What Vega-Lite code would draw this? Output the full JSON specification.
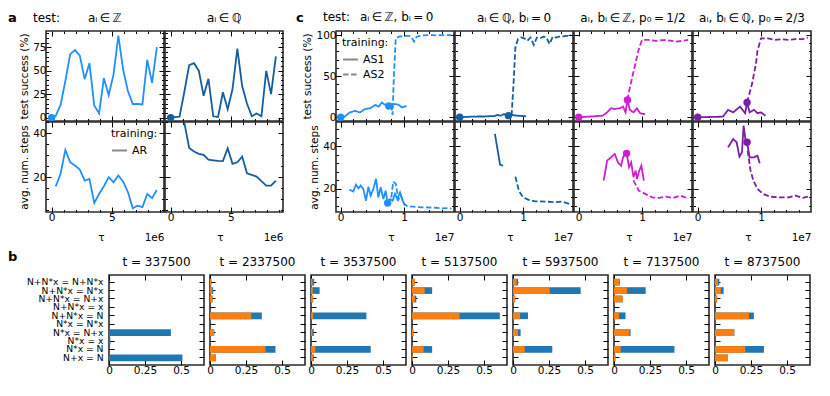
{
"$schema":"https://vega.github.io/schema/vega-lite/v6.json",
"padding":{"left":8,"top":10,"right":2,"bottom":2},
"config":{
 "font":"DejaVu Sans",
 "view":{"stroke":"#2a2a2a","strokeWidth":1.6},
 "axis":{"domain":false,"grid":false,"tickColor":"#000","tickSize":-5,"tickWidth":1,"labelFontSize":10.5,"labelColor":"#000","labelPadding":0,"maxExtent":0,"minExtent":0,"titleFontSize":10.5,"titleFontWeight":"normal","titleColor":"#000","titlePadding":3,"zindex":1,"labelFlush":false,"labelOverlap":false},
 "title":{"fontSize":12,"fontWeight":"normal","color":"#000","offset":6},
 "legend":{"titleFontWeight":"normal","titleFontSize":11,"labelFontSize":11,"titleColor":"#000","labelColor":"#000","symbolStrokeColor":"#888","symbolStrokeWidth":1.8,"symbolSize":220,"padding":3,"offset":3,"rowPadding":1,"titlePadding":3}
},
"datasets":{
 "a1top":[{"t":0,"v":0},{"t":337500,"v":2},{"t":737500,"v":13.5},{"t":1137500,"v":39},{"t":1537500,"v":67.6},{"t":1937500,"v":72},{"t":2337500,"v":66},{"t":2737500,"v":41},{"t":3137500,"v":58},{"t":3537500,"v":13},{"t":3937500,"v":4.5},{"t":4337500,"v":42},{"t":4737500,"v":24},{"t":5137500,"v":46},{"t":5537500,"v":87.5},{"t":5937500,"v":51},{"t":6337500,"v":28},{"t":6737500,"v":14.5},{"t":7137500,"v":14.5},{"t":7537500,"v":14},{"t":7937500,"v":61.6},{"t":8337500,"v":37},{"t":8737500,"v":75}],
 "a1bot":[{"t":337500,"v":15.8,"training":"AR"},{"t":737500,"v":21.5,"training":"AR"},{"t":1137500,"v":32.4,"training":"AR"},{"t":1537500,"v":26.8,"training":"AR"},{"t":1937500,"v":25.3,"training":"AR"},{"t":2337500,"v":23.5,"training":"AR"},{"t":2737500,"v":18.5,"training":"AR"},{"t":3137500,"v":19.2,"training":"AR"},{"t":3537500,"v":8.3,"training":"AR"},{"t":3937500,"v":12.4,"training":"AR"},{"t":4337500,"v":15.9,"training":"AR"},{"t":4737500,"v":20,"training":"AR"},{"t":5137500,"v":17.7,"training":"AR"},{"t":5537500,"v":20.8,"training":"AR"},{"t":5937500,"v":18,"training":"AR"},{"t":6337500,"v":13.2,"training":"AR"},{"t":6737500,"v":5.9,"training":"AR"},{"t":7137500,"v":7.1,"training":"AR"},{"t":7537500,"v":6.4,"training":"AR"},{"t":7937500,"v":12.4,"training":"AR"},{"t":8337500,"v":10.5,"training":"AR"},{"t":8737500,"v":14.2,"training":"AR"}],
 "a2top":[{"t":0,"v":0},{"t":337500,"v":0.5},{"t":737500,"v":1.1},{"t":1137500,"v":27.6},{"t":1537500,"v":56},{"t":1937500,"v":58},{"t":2337500,"v":50},{"t":2737500,"v":23.3},{"t":3137500,"v":41.3},{"t":3537500,"v":1.4},{"t":3937500,"v":0.7},{"t":4337500,"v":27},{"t":4737500,"v":9},{"t":5137500,"v":30.5},{"t":5537500,"v":73.6},{"t":5937500,"v":33.7},{"t":6337500,"v":15},{"t":6737500,"v":1.4},{"t":7137500,"v":4.3},{"t":7537500,"v":1.4},{"t":7937500,"v":49.8},{"t":8337500,"v":25},{"t":8737500,"v":65.3}],
 "a2bot":[{"t":1137500,"v":44.8},{"t":1537500,"v":33.3},{"t":1937500,"v":31.7},{"t":2337500,"v":30.6},{"t":2737500,"v":30.2},{"t":3137500,"v":28},{"t":3537500,"v":27.7},{"t":3937500,"v":27.4},{"t":4337500,"v":27.3},{"t":4737500,"v":33.2},{"t":5137500,"v":26.1},{"t":5537500,"v":26.8},{"t":5937500,"v":29.4},{"t":6337500,"v":21.8},{"t":6737500,"v":21.1},{"t":7137500,"v":20.3},{"t":7537500,"v":18.2},{"t":7937500,"v":16.2},{"t":8337500,"v":16.2},{"t":8737500,"v":18.5}],
 "c1top":[{"t":0,"v":0,"training":"AS1"},{"t":640000,"v":0.8,"training":"AS1"},{"t":1440000,"v":6,"training":"AS1"},{"t":2250000,"v":7.7,"training":"AS1"},{"t":3050000,"v":6,"training":"AS1"},{"t":3850000,"v":10,"training":"AS1"},{"t":4650000,"v":11,"training":"AS1"},{"t":5450000,"v":15,"training":"AS1"},{"t":6000000,"v":13,"training":"AS1"},{"t":6500000,"v":18,"training":"AS1"},{"t":7050000,"v":15,"training":"AS1"},{"t":7600000,"v":13.8,"training":"AS1"},{"t":8100000,"v":16,"training":"AS1"},{"t":8700000,"v":16,"training":"AS1"},{"t":9200000,"v":15,"training":"AS1"},{"t":9700000,"v":12,"training":"AS1"},{"t":10400000,"v":13.8,"training":"AS1"},
  {"t":8000000,"v":15,"training":"AS2"},{"t":8200000,"v":3,"training":"AS2"},{"t":8400000,"v":50,"training":"AS2"},{"t":8700000,"v":96,"training":"AS2"},{"t":9200000,"v":98,"training":"AS2"},{"t":10000000,"v":99,"training":"AS2"},{"t":10800000,"v":99,"training":"AS2"},{"t":11200000,"v":97,"training":"AS2"},{"t":11600000,"v":92,"training":"AS2"},{"t":12000000,"v":98,"training":"AS2"},{"t":13000000,"v":99.5,"training":"AS2"},{"t":14000000,"v":100,"training":"AS2"},{"t":15000000,"v":99.5,"training":"AS2"},{"t":16000000,"v":100,"training":"AS2"},{"t":17000000,"v":100,"training":"AS2"},{"t":17500000,"v":100,"training":"AS2"}],
 "c1bot":[{"t":1370000,"v":19.7,"training":"AS1"},{"t":2000000,"v":18.8,"training":"AS1"},{"t":2400000,"v":22,"training":"AS1"},{"t":2800000,"v":20.3,"training":"AS1"},{"t":3160000,"v":21.6,"training":"AS1"},{"t":3580000,"v":20,"training":"AS1"},{"t":4000000,"v":14.5,"training":"AS1"},{"t":4370000,"v":21,"training":"AS1"},{"t":4740000,"v":16.9,"training":"AS1"},{"t":5160000,"v":20,"training":"AS1"},{"t":5580000,"v":24.7,"training":"AS1"},{"t":5950000,"v":16,"training":"AS1"},{"t":6320000,"v":20.8,"training":"AS1"},{"t":6740000,"v":15.3,"training":"AS1"},{"t":7100000,"v":19.2,"training":"AS1"},{"t":7420000,"v":13.4,"training":"AS1"},{"t":7790000,"v":15.3,"training":"AS1"},{"t":8200000,"v":14.5,"training":"AS1"},{"t":8580000,"v":17.7,"training":"AS1"},{"t":8950000,"v":15.3,"training":"AS1"},{"t":9370000,"v":18.4,"training":"AS1"},{"t":9790000,"v":14.5,"training":"AS1"},{"t":10160000,"v":12.2,"training":"AS1"},
  {"t":8000000,"v":16,"training":"AS2"},{"t":8300000,"v":23.4,"training":"AS2"},{"t":8700000,"v":22.5,"training":"AS2"},{"t":9100000,"v":15,"training":"AS2"},{"t":9500000,"v":17,"training":"AS2"},{"t":10000000,"v":13,"training":"AS2"},{"t":10500000,"v":12,"training":"AS2"},{"t":11000000,"v":11.8,"training":"AS2"},{"t":12000000,"v":11.5,"training":"AS2"},{"t":13000000,"v":11.4,"training":"AS2"},{"t":14000000,"v":11.3,"training":"AS2"},{"t":15000000,"v":11.2,"training":"AS2"},{"t":16000000,"v":10.9,"training":"AS2"},{"t":17000000,"v":11,"training":"AS2"},{"t":17500000,"v":10.8,"training":"AS2"}],
 "c2top":[{"t":0,"v":0,"training":"AS1"},{"t":1000000,"v":0.5,"training":"AS1"},{"t":2000000,"v":0.8,"training":"AS1"},{"t":3000000,"v":1,"training":"AS1"},{"t":4000000,"v":1,"training":"AS1"},{"t":5000000,"v":1.5,"training":"AS1"},{"t":5500000,"v":1.5,"training":"AS1"},{"t":6000000,"v":3,"training":"AS1"},{"t":6500000,"v":2,"training":"AS1"},{"t":7000000,"v":4,"training":"AS1"},{"t":7500000,"v":2,"training":"AS1"},{"t":8000000,"v":3,"training":"AS1"},{"t":8500000,"v":2.5,"training":"AS1"},{"t":9000000,"v":2,"training":"AS1"},{"t":10000000,"v":1.5,"training":"AS1"},{"t":10500000,"v":1.5,"training":"AS1"},
  {"t":8200000,"v":2,"training":"AS2"},{"t":8500000,"v":40,"training":"AS2"},{"t":8800000,"v":85,"training":"AS2"},{"t":9200000,"v":95,"training":"AS2"},{"t":9700000,"v":97,"training":"AS2"},{"t":10200000,"v":96,"training":"AS2"},{"t":10700000,"v":93,"training":"AS2"},{"t":11200000,"v":97,"training":"AS2"},{"t":11700000,"v":88,"training":"AS2"},{"t":12200000,"v":97,"training":"AS2"},{"t":12700000,"v":96,"training":"AS2"},{"t":13200000,"v":98,"training":"AS2"},{"t":13700000,"v":97,"training":"AS2"},{"t":14200000,"v":89,"training":"AS2"},{"t":14700000,"v":98,"training":"AS2"},{"t":15200000,"v":97,"training":"AS2"},{"t":15700000,"v":98,"training":"AS2"},{"t":16200000,"v":98,"training":"AS2"},{"t":16700000,"v":99,"training":"AS2"},{"t":17200000,"v":99,"training":"AS2"},{"t":17600000,"v":100,"training":"AS2"}],
 "c2bot":[{"t":5570000,"v":45.8,"training":"AS1"},{"t":6380000,"v":31.4,"training":"AS1"},{"t":6860000,"v":30.9,"training":"AS1"},
  {"t":8800000,"v":25.8,"training":"AS2"},{"t":9350000,"v":19.2,"training":"AS2"},{"t":10000000,"v":16.1,"training":"AS2"},{"t":10800000,"v":15,"training":"AS2"},{"t":11900000,"v":14.2,"training":"AS2"},{"t":13500000,"v":14.1,"training":"AS2"},{"t":15100000,"v":13.8,"training":"AS2"},{"t":16200000,"v":14.1,"training":"AS2"},{"t":17300000,"v":13,"training":"AS2"}],
 "c3top":[{"t":0,"v":0,"training":"AS1"},{"t":3800000,"v":2,"training":"AS1"},{"t":4500000,"v":6,"training":"AS1"},{"t":5100000,"v":11,"training":"AS1"},{"t":5600000,"v":10,"training":"AS1"},{"t":6500000,"v":11,"training":"AS1"},{"t":7000000,"v":13,"training":"AS1"},{"t":7400000,"v":6,"training":"AS1"},{"t":7700000,"v":21,"training":"AS1"},{"t":8100000,"v":9,"training":"AS1"},{"t":8650000,"v":6,"training":"AS1"},{"t":9200000,"v":11,"training":"AS1"},{"t":9700000,"v":5,"training":"AS1"},{"t":10500000,"v":3.6,"training":"AS1"},
  {"t":7700000,"v":21,"training":"AS2"},{"t":8000000,"v":33,"training":"AS2"},{"t":8650000,"v":55,"training":"AS2"},{"t":9460000,"v":82,"training":"AS2"},{"t":10000000,"v":94,"training":"AS2"},{"t":11000000,"v":94,"training":"AS2"},{"t":12200000,"v":93,"training":"AS2"},{"t":13800000,"v":94,"training":"AS2"},{"t":15400000,"v":92,"training":"AS2"},{"t":16500000,"v":93,"training":"AS2"},{"t":17300000,"v":94,"training":"AS2"}],
 "c3bot":[{"t":3950000,"v":23.9,"training":"AS1"},{"t":4500000,"v":33.3,"training":"AS1"},{"t":5100000,"v":34.8,"training":"AS1"},{"t":5700000,"v":36.4,"training":"AS1"},{"t":6200000,"v":32.5,"training":"AS1"},{"t":6700000,"v":30.9,"training":"AS1"},{"t":7000000,"v":34.8,"training":"AS1"},{"t":7300000,"v":36.4,"training":"AS1"},{"t":7570000,"v":36.7,"training":"AS1"},{"t":7950000,"v":30.2,"training":"AS1"},{"t":8300000,"v":32.5,"training":"AS1"},{"t":8650000,"v":25.5,"training":"AS1"},{"t":9000000,"v":28.6,"training":"AS1"},{"t":9200000,"v":24.7,"training":"AS1"},{"t":9570000,"v":28.6,"training":"AS1"},{"t":9900000,"v":30.9,"training":"AS1"},{"t":10300000,"v":23.9,"training":"AS1"},
  {"t":8650000,"v":24,"training":"AS2"},{"t":9500000,"v":19.2,"training":"AS2"},{"t":10500000,"v":17.7,"training":"AS2"},{"t":11600000,"v":16.1,"training":"AS2"},{"t":12700000,"v":15.8,"training":"AS2"},{"t":13800000,"v":16.4,"training":"AS2"},{"t":14900000,"v":15.8,"training":"AS2"},{"t":16000000,"v":16.9,"training":"AS2"},{"t":16800000,"v":16.1,"training":"AS2"},{"t":17300000,"v":15.8,"training":"AS2"}],
 "c4top":[{"t":0,"v":0,"training":"AS1"},{"t":4000000,"v":0.8,"training":"AS1"},{"t":4800000,"v":9,"training":"AS1"},{"t":5600000,"v":6,"training":"AS1"},{"t":6700000,"v":13,"training":"AS1"},{"t":7100000,"v":9,"training":"AS1"},{"t":7500000,"v":5,"training":"AS1"},{"t":7800000,"v":18,"training":"AS1"},{"t":8200000,"v":6,"training":"AS1"},{"t":8900000,"v":9,"training":"AS1"},{"t":9450000,"v":5,"training":"AS1"},{"t":10000000,"v":6,"training":"AS1"},{"t":10700000,"v":2,"training":"AS1"},
  {"t":7800000,"v":18,"training":"AS2"},{"t":8600000,"v":41,"training":"AS2"},{"t":9200000,"v":65,"training":"AS2"},{"t":9450000,"v":81,"training":"AS2"},{"t":10000000,"v":96,"training":"AS2"},{"t":11100000,"v":96,"training":"AS2"},{"t":12200000,"v":94,"training":"AS2"},{"t":13300000,"v":95,"training":"AS2"},{"t":14400000,"v":94,"training":"AS2"},{"t":15500000,"v":95,"training":"AS2"},{"t":16600000,"v":95,"training":"AS2"},{"t":17400000,"v":97,"training":"AS2"}],
 "c4bot":[{"t":4800000,"v":39.5,"training":"AS1"},{"t":5600000,"v":43.4,"training":"AS1"},{"t":6150000,"v":41.9,"training":"AS1"},{"t":6600000,"v":35.2,"training":"AS1"},{"t":7000000,"v":37.2,"training":"AS1"},{"t":7250000,"v":49.7,"training":"AS1"},{"t":7550000,"v":43,"training":"AS1"},{"t":7800000,"v":41.9,"training":"AS1"},{"t":8200000,"v":34.8,"training":"AS1"},{"t":8900000,"v":34.8,"training":"AS1"},{"t":9450000,"v":35.6,"training":"AS1"},{"t":9800000,"v":32,"training":"AS1"},
  {"t":7900000,"v":38,"training":"AS2"},{"t":8350000,"v":28.6,"training":"AS2"},{"t":8800000,"v":23.9,"training":"AS2"},{"t":9450000,"v":20,"training":"AS2"},{"t":10300000,"v":17.7,"training":"AS2"},{"t":11400000,"v":16.4,"training":"AS2"},{"t":12700000,"v":16.1,"training":"AS2"},{"t":14400000,"v":16.1,"training":"AS2"},{"t":15500000,"v":16.9,"training":"AS2"},{"t":16600000,"v":15.8,"training":"AS2"},{"t":17400000,"v":16.4,"training":"AS2"}],
 "markers":[{"p":"a1top","t":0,"v":0},{"p":"a2top","t":0,"v":0},{"p":"c1top","t":0,"v":0},{"p":"c1top","t":7600000,"v":13.8},{"p":"c1bot","t":7420000,"v":13.4},{"p":"c2top","t":0,"v":0},{"p":"c2top","t":7700000,"v":2},{"p":"c3top","t":0,"v":0},{"p":"c3top","t":7700000,"v":21},{"p":"c3bot","t":7570000,"v":36.7},{"p":"c4top","t":0,"v":0},{"p":"c4top","t":7800000,"v":18},{"p":"c4bot","t":7800000,"v":41.9}],
 "blank":[{"k":0}],
 "bars":[
  {"t":"337500","cat":"N+N*x = N+N*x","blue":0,"orange":0},{"t":"337500","cat":"N+N*x = N*x","blue":0,"orange":0},{"t":"337500","cat":"N+N*x = N+x","blue":0,"orange":0},{"t":"337500","cat":"N+N*x = x","blue":0,"orange":0},{"t":"337500","cat":"N+N*x = N","blue":0,"orange":0},{"t":"337500","cat":"N*x = N*x","blue":0,"orange":0},{"t":"337500","cat":"N*x = N+x","blue":0.43,"orange":0},{"t":"337500","cat":"N*x = x","blue":0.01,"orange":0},{"t":"337500","cat":"N*x = N","blue":0,"orange":0},{"t":"337500","cat":"N+x = N","blue":0.51,"orange":0},
  {"t":"2337500","cat":"N+N*x = N+N*x","blue":0.01,"orange":0.008},{"t":"2337500","cat":"N+N*x = N*x","blue":0.022,"orange":0.015},{"t":"2337500","cat":"N+N*x = N+x","blue":0.018,"orange":0.018},{"t":"2337500","cat":"N+N*x = x","blue":0,"orange":0},{"t":"2337500","cat":"N+N*x = N","blue":0.36,"orange":0.287},{"t":"2337500","cat":"N*x = N*x","blue":0,"orange":0},{"t":"2337500","cat":"N*x = N+x","blue":0.03,"orange":0.028},{"t":"2337500","cat":"N*x = x","blue":0,"orange":0},{"t":"2337500","cat":"N*x = N","blue":0.455,"orange":0.385},{"t":"2337500","cat":"N+x = N","blue":0.04,"orange":0.04},
  {"t":"3537500","cat":"N+N*x = N+N*x","blue":0.022,"orange":0.01},{"t":"3537500","cat":"N+N*x = N*x","blue":0.06,"orange":0.012},{"t":"3537500","cat":"N+N*x = N+x","blue":0.015,"orange":0.015},{"t":"3537500","cat":"N+N*x = x","blue":0,"orange":0},{"t":"3537500","cat":"N+N*x = N","blue":0.385,"orange":0.015},{"t":"3537500","cat":"N*x = N*x","blue":0,"orange":0},{"t":"3537500","cat":"N*x = N+x","blue":0.02,"orange":0.01},{"t":"3537500","cat":"N*x = x","blue":0,"orange":0},{"t":"3537500","cat":"N*x = N","blue":0.415,"orange":0.03},{"t":"3537500","cat":"N+x = N","blue":0.02,"orange":0.015},
  {"t":"5137500","cat":"N+N*x = N+N*x","blue":0.02,"orange":0.02},{"t":"5137500","cat":"N+N*x = N*x","blue":0.14,"orange":0.088},{"t":"5137500","cat":"N+N*x = N+x","blue":0.03,"orange":0.02},{"t":"5137500","cat":"N+N*x = x","blue":0,"orange":0},{"t":"5137500","cat":"N+N*x = N","blue":0.61,"orange":0.33},{"t":"5137500","cat":"N*x = N*x","blue":0,"orange":0},{"t":"5137500","cat":"N*x = N+x","blue":0.01,"orange":0.01},{"t":"5137500","cat":"N*x = x","blue":0,"orange":0},{"t":"5137500","cat":"N*x = N","blue":0.14,"orange":0.08},{"t":"5137500","cat":"N+x = N","blue":0.005,"orange":0.005},
  {"t":"5937500","cat":"N+N*x = N+N*x","blue":0.035,"orange":0.025},{"t":"5937500","cat":"N+N*x = N*x","blue":0.47,"orange":0.255},{"t":"5937500","cat":"N+N*x = N+x","blue":0.015,"orange":0.015},{"t":"5937500","cat":"N+N*x = x","blue":0,"orange":0},{"t":"5937500","cat":"N+N*x = N","blue":0.104,"orange":0.049},{"t":"5937500","cat":"N*x = N*x","blue":0,"orange":0},{"t":"5937500","cat":"N*x = N+x","blue":0.053,"orange":0.035},{"t":"5937500","cat":"N*x = x","blue":0,"orange":0},{"t":"5937500","cat":"N*x = N","blue":0.273,"orange":0.081},{"t":"5937500","cat":"N+x = N","blue":0,"orange":0},
  {"t":"7137500","cat":"N+N*x = N+N*x","blue":0.04,"orange":0.035},{"t":"7137500","cat":"N+N*x = N*x","blue":0.22,"orange":0.09},{"t":"7137500","cat":"N+N*x = N+x","blue":0.06,"orange":0.06},{"t":"7137500","cat":"N+N*x = x","blue":0,"orange":0},{"t":"7137500","cat":"N+N*x = N","blue":0.08,"orange":0.035},{"t":"7137500","cat":"N*x = N*x","blue":0,"orange":0},{"t":"7137500","cat":"N*x = N+x","blue":0.115,"orange":0.107},{"t":"7137500","cat":"N*x = x","blue":0,"orange":0},{"t":"7137500","cat":"N*x = N","blue":0.42,"orange":0.047},{"t":"7137500","cat":"N+x = N","blue":0.01,"orange":0.01},
  {"t":"8737500","cat":"N+N*x = N+N*x","blue":0.03,"orange":0.02},{"t":"8737500","cat":"N+N*x = N*x","blue":0.06,"orange":0.04},{"t":"8737500","cat":"N+N*x = N+x","blue":0.015,"orange":0.015},{"t":"8737500","cat":"N+N*x = x","blue":0,"orange":0},{"t":"8737500","cat":"N+N*x = N","blue":0.27,"orange":0.236},{"t":"8737500","cat":"N*x = N*x","blue":0,"orange":0},{"t":"8737500","cat":"N*x = N+x","blue":0.134,"orange":0.134},{"t":"8737500","cat":"N*x = x","blue":0,"orange":0},{"t":"8737500","cat":"N*x = N","blue":0.34,"orange":0.21},{"t":"8737500","cat":"N+x = N","blue":0.09,"orange":0.09}
 ]
},
"resolve":{"scale":{"strokeDash":"independent"},"legend":{"strokeDash":"independent"}},
"columns":1,
"align":"none",
"spacing":7,
"concat":[
 {"columns":8,"align":"each","bounds":"flush","spacing":{"row":1,"column":1},"resolve":{"scale":{"strokeDash":"independent"},"legend":{"strokeDash":"independent"}},
  "concat":[
   {"width":37,"height":90,"view":{"stroke":null},"title":{"text":"a","fontWeight":"bold","fontSize":13,"anchor":"start","frame":"group"},"data":{"name":"blank"},"mark":{"type":"point","opacity":0},"encoding":{}},
   {"width":118,"height":90,"title":{"text":"test:\u2003\u2003 a\u1d62\u2009\u2208\u2009\u2124","anchor":"start","frame":"group","dx":-13},
    "data":{"name":"a1top"},"resolve":{"axis":{"x":"independent","y":"independent"}},
    "layer":[
     {"mark":{"type":"line","color":"#1E90FF","strokeWidth":1.8},"encoding":{"x":{"field":"t","type":"quantitative","scale":{"domain":[-470000,9330000],"nice":false,"zero":false},"axis":null},"y":{"field":"v","type":"quantitative","scale":{"domain":[-3.6,92.3],"nice":false,"zero":false},"axis":null}}},
     {"data":{"name":"markers"},"transform":[{"filter":"datum.p==='a1top'"}],"mark":{"type":"circle","size":55,"color":"#1E90FF","opacity":1},"encoding":{"x":{"field":"t","type":"quantitative","scale":{"domain":[-470000,9330000],"nice":false,"zero":false},"axis":null},"y":{"field":"v","type":"quantitative","scale":{"domain":[-3.6,92.3],"nice":false,"zero":false},"axis":null}}},
     {"mark":{"type":"point","opacity":0},"encoding":{"x":{"field":"t","type":"quantitative","scale":{"domain":[-470000,9330000],"nice":false,"zero":false},"axis":{"orient":"bottom","values":[0,5000000],"labels":false,"title":null}},"y":{"field":"v","type":"quantitative","scale":{"domain":[-3.6,92.3],"nice":false,"zero":false},"axis":{"orient":"left","values":[0,25,50,75],"title":"test success (%)","labelPadding":5,"maxExtent":200}}}},
     {"mark":{"type":"point","opacity":0},"encoding":{"x":{"field":"t","type":"quantitative","scale":{"domain":[-470000,9330000],"nice":false,"zero":false},"axis":{"orient":"bottom","values":[1000000,2000000,3000000,4000000,6000000,7000000,8000000,9000000],"labels":false,"title":null,"tickSize":-2.5}},"y":{"field":"v","type":"quantitative","scale":{"domain":[-3.6,92.3],"nice":false,"zero":false},"axis":{"orient":"left","values":[5,10,15,20,30,35,40,45,55,60,65,70,80,85,90],"labels":false,"title":null,"tickSize":-2.5}}}},
     {"mark":{"type":"point","opacity":0},"encoding":{"x":{"field":"t","type":"quantitative","scale":{"domain":[-470000,9330000],"nice":false,"zero":false},"axis":{"orient":"top","values":[0,5000000],"labels":false,"title":null}},"y":{"field":"v","type":"quantitative","scale":{"domain":[-3.6,92.3],"nice":false,"zero":false},"axis":{"orient":"right","values":[0,25,50,75],"labels":false,"title":null}}}},
     {"mark":{"type":"point","opacity":0},"encoding":{"x":{"field":"t","type":"quantitative","scale":{"domain":[-470000,9330000],"nice":false,"zero":false},"axis":{"orient":"top","values":[1000000,2000000,3000000,4000000,6000000,7000000,8000000,9000000],"labels":false,"title":null,"tickSize":-2.5}},"y":{"field":"v","type":"quantitative","scale":{"domain":[-3.6,92.3],"nice":false,"zero":false},"axis":{"orient":"right","values":[5,10,15,20,30,35,40,45,55,60,65,70,80,85,90],"labels":false,"title":null,"tickSize":-2.5}}}}
    ]},
   {"width":118,"height":90,"title":{"text":"a\u1d62\u2009\u2208\u2009\u211a"},
    "data":{"name":"a2top"},"resolve":{"axis":{"x":"independent","y":"independent"}},
    "layer":[
     {"mark":{"type":"line","color":"#145DA0","strokeWidth":1.8},"encoding":{"x":{"field":"t","type":"quantitative","scale":{"domain":[-470000,9330000],"nice":false,"zero":false},"axis":null},"y":{"field":"v","type":"quantitative","scale":{"domain":[-3.6,92.3],"nice":false,"zero":false},"axis":null}}},
     {"data":{"name":"markers"},"transform":[{"filter":"datum.p==='a2top'"}],"mark":{"type":"circle","size":55,"color":"#145DA0","opacity":1},"encoding":{"x":{"field":"t","type":"quantitative","scale":{"domain":[-470000,9330000],"nice":false,"zero":false},"axis":null},"y":{"field":"v","type":"quantitative","scale":{"domain":[-3.6,92.3],"nice":false,"zero":false},"axis":null}}},
     {"mark":{"type":"point","opacity":0},"encoding":{"x":{"field":"t","type":"quantitative","scale":{"domain":[-470000,9330000],"nice":false,"zero":false},"axis":{"orient":"bottom","values":[0,5000000],"labels":false,"title":null}},"y":{"field":"v","type":"quantitative","scale":{"domain":[-3.6,92.3],"nice":false,"zero":false},"axis":{"orient":"left","values":[0,25,50,75],"labels":false,"title":null}}}},
     {"mark":{"type":"point","opacity":0},"encoding":{"x":{"field":"t","type":"quantitative","scale":{"domain":[-470000,9330000],"nice":false,"zero":false},"axis":{"orient":"bottom","values":[1000000,2000000,3000000,4000000,6000000,7000000,8000000,9000000],"labels":false,"title":null,"tickSize":-2.5}},"y":{"field":"v","type":"quantitative","scale":{"domain":[-3.6,92.3],"nice":false,"zero":false},"axis":{"orient":"left","values":[5,10,15,20,30,35,40,45,55,60,65,70,80,85,90],"labels":false,"title":null,"tickSize":-2.5}}}},
     {"mark":{"type":"point","opacity":0},"encoding":{"x":{"field":"t","type":"quantitative","scale":{"domain":[-470000,9330000],"nice":false,"zero":false},"axis":{"orient":"top","values":[0,5000000],"labels":false,"title":null}},"y":{"field":"v","type":"quantitative","scale":{"domain":[-3.6,92.3],"nice":false,"zero":false},"axis":{"orient":"right","values":[0,25,50,75],"labels":false,"title":null}}}},
     {"mark":{"type":"point","opacity":0},"encoding":{"x":{"field":"t","type":"quantitative","scale":{"domain":[-470000,9330000],"nice":false,"zero":false},"axis":{"orient":"top","values":[1000000,2000000,3000000,4000000,6000000,7000000,8000000,9000000],"labels":false,"title":null,"tickSize":-2.5}},"y":{"field":"v","type":"quantitative","scale":{"domain":[-3.6,92.3],"nice":false,"zero":false},"axis":{"orient":"right","values":[5,10,15,20,30,35,40,45,55,60,65,70,80,85,90],"labels":false,"title":null,"tickSize":-2.5}}}}
    ]},
   {"width":51,"height":90,"view":{"stroke":null},"title":{"text":"c","fontWeight":"bold","fontSize":13,"anchor":"start","frame":"group","dx":12},"data":{"name":"blank"},"mark":{"type":"point","opacity":0},"encoding":{}},
   {"width":118,"height":90,"title":{"text":"test:\u2002 a\u1d62\u2009\u2208\u2009\u2124, b\u1d62\u2009=\u20090","anchor":"start","frame":"group","dx":-13},
    "data":{"name":"c1top"},"resolve":{"axis":{"x":"independent","y":"independent"}},
    "layer":[
     {"mark":{"type":"line","color":"#1E90FF","strokeWidth":1.8},"encoding":{"x":{"field":"t","type":"quantitative","scale":{"domain":[-740000,17900000],"nice":false,"zero":false},"axis":null},"y":{"field":"v","type":"quantitative","scale":{"domain":[-4.5,104.9],"nice":false,"zero":false},"axis":null},"strokeDash":{"field":"training","type":"nominal","scale":{"domain":["AS1","AS2"],"range":[[1,0],[5.5,2.5]]},"legend":{"title":"training:","orient":"top-left"}}}},
     {"data":{"name":"markers"},"transform":[{"filter":"datum.p==='c1top'"}],"mark":{"type":"circle","size":55,"color":"#1E90FF","opacity":1},"encoding":{"x":{"field":"t","type":"quantitative","scale":{"domain":[-740000,17900000],"nice":false,"zero":false},"axis":null},"y":{"field":"v","type":"quantitative","scale":{"domain":[-4.5,104.9],"nice":false,"zero":false},"axis":null}}},
     {"mark":{"type":"point","opacity":0},"encoding":{"x":{"field":"t","type":"quantitative","scale":{"domain":[-740000,17900000],"nice":false,"zero":false},"axis":{"orient":"bottom","values":[0,10000000],"labels":false,"title":null}},"y":{"field":"v","type":"quantitative","scale":{"domain":[-4.5,104.9],"nice":false,"zero":false},"axis":{"orient":"left","values":[0,50,100],"title":"test success (%)","labelPadding":5,"maxExtent":200}}}},
     {"mark":{"type":"point","opacity":0},"encoding":{"x":{"field":"t","type":"quantitative","scale":{"domain":[-740000,17900000],"nice":false,"zero":false},"axis":{"orient":"bottom","values":[2000000,4000000,6000000,8000000,12000000,14000000,16000000],"labels":false,"title":null,"tickSize":-2.5}},"y":{"field":"v","type":"quantitative","scale":{"domain":[-4.5,104.9],"nice":false,"zero":false},"axis":{"orient":"left","values":[10,20,30,40,60,70,80,90],"labels":false,"title":null,"tickSize":-2.5}}}},
     {"mark":{"type":"point","opacity":0},"encoding":{"x":{"field":"t","type":"quantitative","scale":{"domain":[-740000,17900000],"nice":false,"zero":false},"axis":{"orient":"top","values":[0,10000000],"labels":false,"title":null}},"y":{"field":"v","type":"quantitative","scale":{"domain":[-4.5,104.9],"nice":false,"zero":false},"axis":{"orient":"right","values":[0,50,100],"labels":false,"title":null}}}},
     {"mark":{"type":"point","opacity":0},"encoding":{"x":{"field":"t","type":"quantitative","scale":{"domain":[-740000,17900000],"nice":false,"zero":false},"axis":{"orient":"top","values":[2000000,4000000,6000000,8000000,12000000,14000000,16000000],"labels":false,"title":null,"tickSize":-2.5}},"y":{"field":"v","type":"quantitative","scale":{"domain":[-4.5,104.9],"nice":false,"zero":false},"axis":{"orient":"right","values":[10,20,30,40,60,70,80,90],"labels":false,"title":null,"tickSize":-2.5}}}}
    ]},
   {"width":118,"height":90,"title":{"text":"a\u1d62\u2009\u2208\u2009\u211a, b\u1d62\u2009=\u20090"},
    "data":{"name":"c2top"},"resolve":{"axis":{"x":"independent","y":"independent"}},
    "layer":[
     {"mark":{"type":"line","color":"#145DA0","strokeWidth":1.8},"encoding":{"x":{"field":"t","type":"quantitative","scale":{"domain":[-740000,17900000],"nice":false,"zero":false},"axis":null},"y":{"field":"v","type":"quantitative","scale":{"domain":[-4.5,104.9],"nice":false,"zero":false},"axis":null},"strokeDash":{"field":"training","type":"nominal","scale":{"domain":["AS1","AS2"],"range":[[1,0],[5.5,2.5]]},"legend":null}}},
     {"data":{"name":"markers"},"transform":[{"filter":"datum.p==='c2top'"}],"mark":{"type":"circle","size":55,"color":"#145DA0","opacity":1},"encoding":{"x":{"field":"t","type":"quantitative","scale":{"domain":[-740000,17900000],"nice":false,"zero":false},"axis":null},"y":{"field":"v","type":"quantitative","scale":{"domain":[-4.5,104.9],"nice":false,"zero":false},"axis":null}}},
     {"mark":{"type":"point","opacity":0},"encoding":{"x":{"field":"t","type":"quantitative","scale":{"domain":[-740000,17900000],"nice":false,"zero":false},"axis":{"orient":"bottom","values":[0,10000000],"labels":false,"title":null}},"y":{"field":"v","type":"quantitative","scale":{"domain":[-4.5,104.9],"nice":false,"zero":false},"axis":{"orient":"left","values":[0,50,100],"labels":false,"title":null}}}},
     {"mark":{"type":"point","opacity":0},"encoding":{"x":{"field":"t","type":"quantitative","scale":{"domain":[-740000,17900000],"nice":false,"zero":false},"axis":{"orient":"bottom","values":[2000000,4000000,6000000,8000000,12000000,14000000,16000000],"labels":false,"title":null,"tickSize":-2.5}},"y":{"field":"v","type":"quantitative","scale":{"domain":[-4.5,104.9],"nice":false,"zero":false},"axis":{"orient":"left","values":[10,20,30,40,60,70,80,90],"labels":false,"title":null,"tickSize":-2.5}}}},
     {"mark":{"type":"point","opacity":0},"encoding":{"x":{"field":"t","type":"quantitative","scale":{"domain":[-740000,17900000],"nice":false,"zero":false},"axis":{"orient":"top","values":[0,10000000],"labels":false,"title":null}},"y":{"field":"v","type":"quantitative","scale":{"domain":[-4.5,104.9],"nice":false,"zero":false},"axis":{"orient":"right","values":[0,50,100],"labels":false,"title":null}}}},
     {"mark":{"type":"point","opacity":0},"encoding":{"x":{"field":"t","type":"quantitative","scale":{"domain":[-740000,17900000],"nice":false,"zero":false},"axis":{"orient":"top","values":[2000000,4000000,6000000,8000000,12000000,14000000,16000000],"labels":false,"title":null,"tickSize":-2.5}},"y":{"field":"v","type":"quantitative","scale":{"domain":[-4.5,104.9],"nice":false,"zero":false},"axis":{"orient":"right","values":[10,20,30,40,60,70,80,90],"labels":false,"title":null,"tickSize":-2.5}}}}
    ]},
   {"width":118,"height":90,"title":{"text":"a\u1d62, b\u1d62\u2009\u2208\u2009\u2124, p\u2080\u2009=\u20091/2"},
    "data":{"name":"c3top"},"resolve":{"axis":{"x":"independent","y":"independent"}},
    "layer":[
     {"mark":{"type":"line","color":"#D21CD2","strokeWidth":1.8},"encoding":{"x":{"field":"t","type":"quantitative","scale":{"domain":[-740000,17900000],"nice":false,"zero":false},"axis":null},"y":{"field":"v","type":"quantitative","scale":{"domain":[-4.5,104.9],"nice":false,"zero":false},"axis":null},"strokeDash":{"field":"training","type":"nominal","scale":{"domain":["AS1","AS2"],"range":[[1,0],[5.5,2.5]]},"legend":null}}},
     {"data":{"name":"markers"},"transform":[{"filter":"datum.p==='c3top'"}],"mark":{"type":"circle","size":55,"color":"#D21CD2","opacity":1},"encoding":{"x":{"field":"t","type":"quantitative","scale":{"domain":[-740000,17900000],"nice":false,"zero":false},"axis":null},"y":{"field":"v","type":"quantitative","scale":{"domain":[-4.5,104.9],"nice":false,"zero":false},"axis":null}}},
     {"mark":{"type":"point","opacity":0},"encoding":{"x":{"field":"t","type":"quantitative","scale":{"domain":[-740000,17900000],"nice":false,"zero":false},"axis":{"orient":"bottom","values":[0,10000000],"labels":false,"title":null}},"y":{"field":"v","type":"quantitative","scale":{"domain":[-4.5,104.9],"nice":false,"zero":false},"axis":{"orient":"left","values":[0,50,100],"labels":false,"title":null}}}},
     {"mark":{"type":"point","opacity":0},"encoding":{"x":{"field":"t","type":"quantitative","scale":{"domain":[-740000,17900000],"nice":false,"zero":false},"axis":{"orient":"bottom","values":[2000000,4000000,6000000,8000000,12000000,14000000,16000000],"labels":false,"title":null,"tickSize":-2.5}},"y":{"field":"v","type":"quantitative","scale":{"domain":[-4.5,104.9],"nice":false,"zero":false},"axis":{"orient":"left","values":[10,20,30,40,60,70,80,90],"labels":false,"title":null,"tickSize":-2.5}}}},
     {"mark":{"type":"point","opacity":0},"encoding":{"x":{"field":"t","type":"quantitative","scale":{"domain":[-740000,17900000],"nice":false,"zero":false},"axis":{"orient":"top","values":[0,10000000],"labels":false,"title":null}},"y":{"field":"v","type":"quantitative","scale":{"domain":[-4.5,104.9],"nice":false,"zero":false},"axis":{"orient":"right","values":[0,50,100],"labels":false,"title":null}}}},
     {"mark":{"type":"point","opacity":0},"encoding":{"x":{"field":"t","type":"quantitative","scale":{"domain":[-740000,17900000],"nice":false,"zero":false},"axis":{"orient":"top","values":[2000000,4000000,6000000,8000000,12000000,14000000,16000000],"labels":false,"title":null,"tickSize":-2.5}},"y":{"field":"v","type":"quantitative","scale":{"domain":[-4.5,104.9],"nice":false,"zero":false},"axis":{"orient":"right","values":[10,20,30,40,60,70,80,90],"labels":false,"title":null,"tickSize":-2.5}}}}
    ]},
   {"width":118,"height":90,"title":{"text":"a\u1d62, b\u1d62\u2009\u2208\u2009\u211a, p\u2080\u2009=\u20092/3"},
    "data":{"name":"c4top"},"resolve":{"axis":{"x":"independent","y":"independent"}},
    "layer":[
     {"mark":{"type":"line","color":"#7B1FA2","strokeWidth":1.8},"encoding":{"x":{"field":"t","type":"quantitative","scale":{"domain":[-740000,17900000],"nice":false,"zero":false},"axis":null},"y":{"field":"v","type":"quantitative","scale":{"domain":[-4.5,104.9],"nice":false,"zero":false},"axis":null},"strokeDash":{"field":"training","type":"nominal","scale":{"domain":["AS1","AS2"],"range":[[1,0],[5.5,2.5]]},"legend":null}}},
     {"data":{"name":"markers"},"transform":[{"filter":"datum.p==='c4top'"}],"mark":{"type":"circle","size":55,"color":"#7B1FA2","opacity":1},"encoding":{"x":{"field":"t","type":"quantitative","scale":{"domain":[-740000,17900000],"nice":false,"zero":false},"axis":null},"y":{"field":"v","type":"quantitative","scale":{"domain":[-4.5,104.9],"nice":false,"zero":false},"axis":null}}},
     {"mark":{"type":"point","opacity":0},"encoding":{"x":{"field":"t","type":"quantitative","scale":{"domain":[-740000,17900000],"nice":false,"zero":false},"axis":{"orient":"bottom","values":[0,10000000],"labels":false,"title":null}},"y":{"field":"v","type":"quantitative","scale":{"domain":[-4.5,104.9],"nice":false,"zero":false},"axis":{"orient":"left","values":[0,50,100],"labels":false,"title":null}}}},
     {"mark":{"type":"point","opacity":0},"encoding":{"x":{"field":"t","type":"quantitative","scale":{"domain":[-740000,17900000],"nice":false,"zero":false},"axis":{"orient":"bottom","values":[2000000,4000000,6000000,8000000,12000000,14000000,16000000],"labels":false,"title":null,"tickSize":-2.5}},"y":{"field":"v","type":"quantitative","scale":{"domain":[-4.5,104.9],"nice":false,"zero":false},"axis":{"orient":"left","values":[10,20,30,40,60,70,80,90],"labels":false,"title":null,"tickSize":-2.5}}}},
     {"mark":{"type":"point","opacity":0},"encoding":{"x":{"field":"t","type":"quantitative","scale":{"domain":[-740000,17900000],"nice":false,"zero":false},"axis":{"orient":"top","values":[0,10000000],"labels":false,"title":null}},"y":{"field":"v","type":"quantitative","scale":{"domain":[-4.5,104.9],"nice":false,"zero":false},"axis":{"orient":"right","values":[0,50,100],"labels":false,"title":null}}}},
     {"mark":{"type":"point","opacity":0},"encoding":{"x":{"field":"t","type":"quantitative","scale":{"domain":[-740000,17900000],"nice":false,"zero":false},"axis":{"orient":"top","values":[2000000,4000000,6000000,8000000,12000000,14000000,16000000],"labels":false,"title":null,"tickSize":-2.5}},"y":{"field":"v","type":"quantitative","scale":{"domain":[-4.5,104.9],"nice":false,"zero":false},"axis":{"orient":"right","values":[10,20,30,40,60,70,80,90],"labels":false,"title":null,"tickSize":-2.5}}}}
    ]},
   {"width":37,"height":90,"view":{"stroke":null},"data":{"name":"blank"},"mark":{"type":"point","opacity":0},"encoding":{}},
   {"width":118,"height":90,
    "data":{"name":"a1bot"},"resolve":{"axis":{"x":"independent","y":"independent"}},
    "layer":[
     {"mark":{"type":"line","color":"#1E90FF","strokeWidth":1.8},"encoding":{"x":{"field":"t","type":"quantitative","scale":{"domain":[-470000,9330000],"nice":false,"zero":false},"axis":null},"y":{"field":"v","type":"quantitative","scale":{"domain":[4.2,45.1],"nice":false,"zero":false},"axis":null},"strokeDash":{"field":"training","type":"nominal","scale":{"domain":["AR"],"range":[[1,0]]},"legend":{"title":"training:","orient":"top-right"}}}},
     {"mark":{"type":"point","opacity":0},"encoding":{"x":{"field":"t","type":"quantitative","scale":{"domain":[-470000,9330000],"nice":false,"zero":false},"axis":{"orient":"bottom","values":[0,5000000],"labelExpr":"datum.value/1e6","title":"\u03c4\u2003\u2003\u2003\u2002 1e6","titleAnchor":"end","titlePadding":10,"labelPadding":5,"maxExtent":200}},"y":{"field":"v","type":"quantitative","scale":{"domain":[4.2,45.1],"nice":false,"zero":false},"axis":{"orient":"left","values":[20,40],"title":"avg. num. steps","labelPadding":5,"maxExtent":200}}}},
     {"mark":{"type":"point","opacity":0},"encoding":{"x":{"field":"t","type":"quantitative","scale":{"domain":[-470000,9330000],"nice":false,"zero":false},"axis":{"orient":"bottom","values":[1000000,2000000,3000000,4000000,6000000,7000000,8000000,9000000],"labels":false,"title":null,"tickSize":-2.5}},"y":{"field":"v","type":"quantitative","scale":{"domain":[4.2,45.1],"nice":false,"zero":false},"axis":{"orient":"left","values":[5,10,15,25,30,35,45],"labels":false,"title":null,"tickSize":-2.5}}}},
     {"mark":{"type":"point","opacity":0},"encoding":{"x":{"field":"t","type":"quantitative","scale":{"domain":[-470000,9330000],"nice":false,"zero":false},"axis":{"orient":"top","values":[0,5000000],"labels":false,"title":null}},"y":{"field":"v","type":"quantitative","scale":{"domain":[4.2,45.1],"nice":false,"zero":false},"axis":{"orient":"right","values":[20,40],"labels":false,"title":null}}}},
     {"mark":{"type":"point","opacity":0},"encoding":{"x":{"field":"t","type":"quantitative","scale":{"domain":[-470000,9330000],"nice":false,"zero":false},"axis":{"orient":"top","values":[1000000,2000000,3000000,4000000,6000000,7000000,8000000,9000000],"labels":false,"title":null,"tickSize":-2.5}},"y":{"field":"v","type":"quantitative","scale":{"domain":[4.2,45.1],"nice":false,"zero":false},"axis":{"orient":"right","values":[5,10,15,25,30,35,45],"labels":false,"title":null,"tickSize":-2.5}}}}
    ]},
   {"width":118,"height":90,
    "data":{"name":"a2bot"},"resolve":{"axis":{"x":"independent","y":"independent"}},
    "layer":[
     {"mark":{"type":"line","color":"#145DA0","strokeWidth":1.8},"encoding":{"x":{"field":"t","type":"quantitative","scale":{"domain":[-470000,9330000],"nice":false,"zero":false},"axis":null},"y":{"field":"v","type":"quantitative","scale":{"domain":[4.2,45.1],"nice":false,"zero":false},"axis":null}}},
     {"mark":{"type":"point","opacity":0},"encoding":{"x":{"field":"t","type":"quantitative","scale":{"domain":[-470000,9330000],"nice":false,"zero":false},"axis":{"orient":"bottom","values":[0,5000000],"labelExpr":"datum.value/1e6","title":"\u03c4\u2003\u2003\u2003\u2002 1e6","titleAnchor":"end","titlePadding":10,"labelPadding":5,"maxExtent":200}},"y":{"field":"v","type":"quantitative","scale":{"domain":[4.2,45.1],"nice":false,"zero":false},"axis":{"orient":"left","values":[20,40],"labels":false,"title":null}}}},
     {"mark":{"type":"point","opacity":0},"encoding":{"x":{"field":"t","type":"quantitative","scale":{"domain":[-470000,9330000],"nice":false,"zero":false},"axis":{"orient":"bottom","values":[1000000,2000000,3000000,4000000,6000000,7000000,8000000,9000000],"labels":false,"title":null,"tickSize":-2.5}},"y":{"field":"v","type":"quantitative","scale":{"domain":[4.2,45.1],"nice":false,"zero":false},"axis":{"orient":"left","values":[5,10,15,25,30,35,45],"labels":false,"title":null,"tickSize":-2.5}}}},
     {"mark":{"type":"point","opacity":0},"encoding":{"x":{"field":"t","type":"quantitative","scale":{"domain":[-470000,9330000],"nice":false,"zero":false},"axis":{"orient":"top","values":[0,5000000],"labels":false,"title":null}},"y":{"field":"v","type":"quantitative","scale":{"domain":[4.2,45.1],"nice":false,"zero":false},"axis":{"orient":"right","values":[20,40],"labels":false,"title":null}}}},
     {"mark":{"type":"point","opacity":0},"encoding":{"x":{"field":"t","type":"quantitative","scale":{"domain":[-470000,9330000],"nice":false,"zero":false},"axis":{"orient":"top","values":[1000000,2000000,3000000,4000000,6000000,7000000,8000000,9000000],"labels":false,"title":null,"tickSize":-2.5}},"y":{"field":"v","type":"quantitative","scale":{"domain":[4.2,45.1],"nice":false,"zero":false},"axis":{"orient":"right","values":[5,10,15,25,30,35,45],"labels":false,"title":null,"tickSize":-2.5}}}}
    ]},
   {"width":51,"height":90,"view":{"stroke":null},"data":{"name":"blank"},"mark":{"type":"point","opacity":0},"encoding":{}},
   {"width":118,"height":90,
    "data":{"name":"c1bot"},"resolve":{"axis":{"x":"independent","y":"independent"}},
    "layer":[
     {"mark":{"type":"line","color":"#1E90FF","strokeWidth":1.8},"encoding":{"x":{"field":"t","type":"quantitative","scale":{"domain":[-740000,17900000],"nice":false,"zero":false},"axis":null},"y":{"field":"v","type":"quantitative","scale":{"domain":[9.2,51.4],"nice":false,"zero":false},"axis":null},"strokeDash":{"field":"training","type":"nominal","scale":{"domain":["AS1","AS2"],"range":[[1,0],[5.5,2.5]]},"legend":null}}},
     {"data":{"name":"markers"},"transform":[{"filter":"datum.p==='c1bot'"}],"mark":{"type":"circle","size":55,"color":"#1E90FF","opacity":1},"encoding":{"x":{"field":"t","type":"quantitative","scale":{"domain":[-740000,17900000],"nice":false,"zero":false},"axis":null},"y":{"field":"v","type":"quantitative","scale":{"domain":[9.2,51.4],"nice":false,"zero":false},"axis":null}}},
     {"mark":{"type":"point","opacity":0},"encoding":{"x":{"field":"t","type":"quantitative","scale":{"domain":[-740000,17900000],"nice":false,"zero":false},"axis":{"orient":"bottom","values":[0,10000000],"labelExpr":"datum.value/1e7","title":"\u03c4\u2003\u2003\u2003\u2002 1e7","titleAnchor":"end","titlePadding":10,"labelPadding":5,"maxExtent":200}},"y":{"field":"v","type":"quantitative","scale":{"domain":[9.2,51.4],"nice":false,"zero":false},"axis":{"orient":"left","values":[20,40],"title":"avg. num. steps","labelPadding":5,"maxExtent":200}}}},
     {"mark":{"type":"point","opacity":0},"encoding":{"x":{"field":"t","type":"quantitative","scale":{"domain":[-740000,17900000],"nice":false,"zero":false},"axis":{"orient":"bottom","values":[2000000,4000000,6000000,8000000,12000000,14000000,16000000],"labels":false,"title":null,"tickSize":-2.5}},"y":{"field":"v","type":"quantitative","scale":{"domain":[9.2,51.4],"nice":false,"zero":false},"axis":{"orient":"left","values":[12,16,24,28,32,36,44,48],"labels":false,"title":null,"tickSize":-2.5}}}},
     {"mark":{"type":"point","opacity":0},"encoding":{"x":{"field":"t","type":"quantitative","scale":{"domain":[-740000,17900000],"nice":false,"zero":false},"axis":{"orient":"top","values":[0,10000000],"labels":false,"title":null}},"y":{"field":"v","type":"quantitative","scale":{"domain":[9.2,51.4],"nice":false,"zero":false},"axis":{"orient":"right","values":[20,40],"labels":false,"title":null}}}},
     {"mark":{"type":"point","opacity":0},"encoding":{"x":{"field":"t","type":"quantitative","scale":{"domain":[-740000,17900000],"nice":false,"zero":false},"axis":{"orient":"top","values":[2000000,4000000,6000000,8000000,12000000,14000000,16000000],"labels":false,"title":null,"tickSize":-2.5}},"y":{"field":"v","type":"quantitative","scale":{"domain":[9.2,51.4],"nice":false,"zero":false},"axis":{"orient":"right","values":[12,16,24,28,32,36,44,48],"labels":false,"title":null,"tickSize":-2.5}}}}
    ]},
   {"width":118,"height":90,
    "data":{"name":"c2bot"},"resolve":{"axis":{"x":"independent","y":"independent"}},
    "layer":[
     {"mark":{"type":"line","color":"#145DA0","strokeWidth":1.8},"encoding":{"x":{"field":"t","type":"quantitative","scale":{"domain":[-740000,17900000],"nice":false,"zero":false},"axis":null},"y":{"field":"v","type":"quantitative","scale":{"domain":[9.2,51.4],"nice":false,"zero":false},"axis":null},"strokeDash":{"field":"training","type":"nominal","scale":{"domain":["AS1","AS2"],"range":[[1,0],[5.5,2.5]]},"legend":null}}},
     {"mark":{"type":"point","opacity":0},"encoding":{"x":{"field":"t","type":"quantitative","scale":{"domain":[-740000,17900000],"nice":false,"zero":false},"axis":{"orient":"bottom","values":[0,10000000],"labelExpr":"datum.value/1e7","title":"\u03c4\u2003\u2003\u2003\u2002 1e7","titleAnchor":"end","titlePadding":10,"labelPadding":5,"maxExtent":200}},"y":{"field":"v","type":"quantitative","scale":{"domain":[9.2,51.4],"nice":false,"zero":false},"axis":{"orient":"left","values":[20,40],"labels":false,"title":null}}}},
     {"mark":{"type":"point","opacity":0},"encoding":{"x":{"field":"t","type":"quantitative","scale":{"domain":[-740000,17900000],"nice":false,"zero":false},"axis":{"orient":"bottom","values":[2000000,4000000,6000000,8000000,12000000,14000000,16000000],"labels":false,"title":null,"tickSize":-2.5}},"y":{"field":"v","type":"quantitative","scale":{"domain":[9.2,51.4],"nice":false,"zero":false},"axis":{"orient":"left","values":[12,16,24,28,32,36,44,48],"labels":false,"title":null,"tickSize":-2.5}}}},
     {"mark":{"type":"point","opacity":0},"encoding":{"x":{"field":"t","type":"quantitative","scale":{"domain":[-740000,17900000],"nice":false,"zero":false},"axis":{"orient":"top","values":[0,10000000],"labels":false,"title":null}},"y":{"field":"v","type":"quantitative","scale":{"domain":[9.2,51.4],"nice":false,"zero":false},"axis":{"orient":"right","values":[20,40],"labels":false,"title":null}}}},
     {"mark":{"type":"point","opacity":0},"encoding":{"x":{"field":"t","type":"quantitative","scale":{"domain":[-740000,17900000],"nice":false,"zero":false},"axis":{"orient":"top","values":[2000000,4000000,6000000,8000000,12000000,14000000,16000000],"labels":false,"title":null,"tickSize":-2.5}},"y":{"field":"v","type":"quantitative","scale":{"domain":[9.2,51.4],"nice":false,"zero":false},"axis":{"orient":"right","values":[12,16,24,28,32,36,44,48],"labels":false,"title":null,"tickSize":-2.5}}}}
    ]},
   {"width":118,"height":90,
    "data":{"name":"c3bot"},"resolve":{"axis":{"x":"independent","y":"independent"}},
    "layer":[
     {"mark":{"type":"line","color":"#D21CD2","strokeWidth":1.8},"encoding":{"x":{"field":"t","type":"quantitative","scale":{"domain":[-740000,17900000],"nice":false,"zero":false},"axis":null},"y":{"field":"v","type":"quantitative","scale":{"domain":[9.2,51.4],"nice":false,"zero":false},"axis":null},"strokeDash":{"field":"training","type":"nominal","scale":{"domain":["AS1","AS2"],"range":[[1,0],[5.5,2.5]]},"legend":null}}},
     {"data":{"name":"markers"},"transform":[{"filter":"datum.p==='c3bot'"}],"mark":{"type":"circle","size":55,"color":"#D21CD2","opacity":1},"encoding":{"x":{"field":"t","type":"quantitative","scale":{"domain":[-740000,17900000],"nice":false,"zero":false},"axis":null},"y":{"field":"v","type":"quantitative","scale":{"domain":[9.2,51.4],"nice":false,"zero":false},"axis":null}}},
     {"mark":{"type":"point","opacity":0},"encoding":{"x":{"field":"t","type":"quantitative","scale":{"domain":[-740000,17900000],"nice":false,"zero":false},"axis":{"orient":"bottom","values":[0,10000000],"labelExpr":"datum.value/1e7","title":"\u03c4\u2003\u2003\u2003\u2002 1e7","titleAnchor":"end","titlePadding":10,"labelPadding":5,"maxExtent":200}},"y":{"field":"v","type":"quantitative","scale":{"domain":[9.2,51.4],"nice":false,"zero":false},"axis":{"orient":"left","values":[20,40],"labels":false,"title":null}}}},
     {"mark":{"type":"point","opacity":0},"encoding":{"x":{"field":"t","type":"quantitative","scale":{"domain":[-740000,17900000],"nice":false,"zero":false},"axis":{"orient":"bottom","values":[2000000,4000000,6000000,8000000,12000000,14000000,16000000],"labels":false,"title":null,"tickSize":-2.5}},"y":{"field":"v","type":"quantitative","scale":{"domain":[9.2,51.4],"nice":false,"zero":false},"axis":{"orient":"left","values":[12,16,24,28,32,36,44,48],"labels":false,"title":null,"tickSize":-2.5}}}},
     {"mark":{"type":"point","opacity":0},"encoding":{"x":{"field":"t","type":"quantitative","scale":{"domain":[-740000,17900000],"nice":false,"zero":false},"axis":{"orient":"top","values":[0,10000000],"labels":false,"title":null}},"y":{"field":"v","type":"quantitative","scale":{"domain":[9.2,51.4],"nice":false,"zero":false},"axis":{"orient":"right","values":[20,40],"labels":false,"title":null}}}},
     {"mark":{"type":"point","opacity":0},"encoding":{"x":{"field":"t","type":"quantitative","scale":{"domain":[-740000,17900000],"nice":false,"zero":false},"axis":{"orient":"top","values":[2000000,4000000,6000000,8000000,12000000,14000000,16000000],"labels":false,"title":null,"tickSize":-2.5}},"y":{"field":"v","type":"quantitative","scale":{"domain":[9.2,51.4],"nice":false,"zero":false},"axis":{"orient":"right","values":[12,16,24,28,32,36,44,48],"labels":false,"title":null,"tickSize":-2.5}}}}
    ]},
   {"width":118,"height":90,
    "data":{"name":"c4bot"},"resolve":{"axis":{"x":"independent","y":"independent"}},
    "layer":[
     {"mark":{"type":"line","color":"#7B1FA2","strokeWidth":1.8},"encoding":{"x":{"field":"t","type":"quantitative","scale":{"domain":[-740000,17900000],"nice":false,"zero":false},"axis":null},"y":{"field":"v","type":"quantitative","scale":{"domain":[9.2,51.4],"nice":false,"zero":false},"axis":null},"strokeDash":{"field":"training","type":"nominal","scale":{"domain":["AS1","AS2"],"range":[[1,0],[5.5,2.5]]},"legend":null}}},
     {"data":{"name":"markers"},"transform":[{"filter":"datum.p==='c4bot'"}],"mark":{"type":"circle","size":55,"color":"#7B1FA2","opacity":1},"encoding":{"x":{"field":"t","type":"quantitative","scale":{"domain":[-740000,17900000],"nice":false,"zero":false},"axis":null},"y":{"field":"v","type":"quantitative","scale":{"domain":[9.2,51.4],"nice":false,"zero":false},"axis":null}}},
     {"mark":{"type":"point","opacity":0},"encoding":{"x":{"field":"t","type":"quantitative","scale":{"domain":[-740000,17900000],"nice":false,"zero":false},"axis":{"orient":"bottom","values":[0,10000000],"labelExpr":"datum.value/1e7","title":"\u03c4\u2003\u2003\u2003\u2002 1e7","titleAnchor":"end","titlePadding":10,"labelPadding":5,"maxExtent":200}},"y":{"field":"v","type":"quantitative","scale":{"domain":[9.2,51.4],"nice":false,"zero":false},"axis":{"orient":"left","values":[20,40],"labels":false,"title":null}}}},
     {"mark":{"type":"point","opacity":0},"encoding":{"x":{"field":"t","type":"quantitative","scale":{"domain":[-740000,17900000],"nice":false,"zero":false},"axis":{"orient":"bottom","values":[2000000,4000000,6000000,8000000,12000000,14000000,16000000],"labels":false,"title":null,"tickSize":-2.5}},"y":{"field":"v","type":"quantitative","scale":{"domain":[9.2,51.4],"nice":false,"zero":false},"axis":{"orient":"left","values":[12,16,24,28,32,36,44,48],"labels":false,"title":null,"tickSize":-2.5}}}},
     {"mark":{"type":"point","opacity":0},"encoding":{"x":{"field":"t","type":"quantitative","scale":{"domain":[-740000,17900000],"nice":false,"zero":false},"axis":{"orient":"top","values":[0,10000000],"labels":false,"title":null}},"y":{"field":"v","type":"quantitative","scale":{"domain":[9.2,51.4],"nice":false,"zero":false},"axis":{"orient":"right","values":[20,40],"labels":false,"title":null}}}},
     {"mark":{"type":"point","opacity":0},"encoding":{"x":{"field":"t","type":"quantitative","scale":{"domain":[-740000,17900000],"nice":false,"zero":false},"axis":{"orient":"top","values":[2000000,4000000,6000000,8000000,12000000,14000000,16000000],"labels":false,"title":null,"tickSize":-2.5}},"y":{"field":"v","type":"quantitative","scale":{"domain":[9.2,51.4],"nice":false,"zero":false},"axis":{"orient":"right","values":[12,16,24,28,32,36,44,48],"labels":false,"title":null,"tickSize":-2.5}}}}
    ]}
  ]},
 {"bounds":"flush","spacing":6,"resolve":{"scale":{"strokeDash":"independent"},"legend":{"strokeDash":"independent"}},
  "hconcat":[
   {"width":95,"height":90,"view":{"stroke":null},"title":{"text":"b","fontWeight":"bold","fontSize":13,"anchor":"start","frame":"group","dy":-5},"data":{"name":"blank"},"mark":{"type":"point","opacity":0},"encoding":{}},
   {"width":95,"height":90,"title":"t = 337500","data":{"name":"bars"},"transform":[{"filter":"datum.t==='337500'"}],"resolve":{"axis":{"x":"independent","y":"independent"}},
    "layer":[
     {"mark":{"type":"bar","color":"#1f77b4"},"encoding":{"x":{"field":"blue","type":"quantitative","scale":{"domain":[0,0.66],"nice":false},"axis":null},"y":{"field":"cat","type":"nominal","scale":{"domain":["N+N*x = N+N*x","N+N*x = N*x","N+N*x = N+x","N+N*x = x","N+N*x = N","N*x = N*x","N*x = N+x","N*x = x","N*x = N","N+x = N"],"paddingInner":0.2,"paddingOuter":0.45},"axis":null}}},
     {"mark":{"type":"bar","color":"#ff7f0e"},"encoding":{"x":{"field":"orange","type":"quantitative","scale":{"domain":[0,0.66],"nice":false},"axis":null},"y":{"field":"cat","type":"nominal","scale":{"domain":["N+N*x = N+N*x","N+N*x = N*x","N+N*x = N+x","N+N*x = x","N+N*x = N","N*x = N*x","N*x = N+x","N*x = x","N*x = N","N+x = N"],"paddingInner":0.2,"paddingOuter":0.45},"axis":null}}},
     {"mark":{"type":"point","opacity":0},"encoding":{"x":{"field":"blue","type":"quantitative","scale":{"domain":[0,0.66],"nice":false},"axis":{"orient":"bottom","values":[0,0.25,0.5],"labelExpr":"''+datum.value","title":null,"labelPadding":5,"maxExtent":200}},"y":{"field":"cat","type":"nominal","scale":{"domain":["N+N*x = N+N*x","N+N*x = N*x","N+N*x = N+x","N+N*x = x","N+N*x = N","N*x = N*x","N*x = N+x","N*x = x","N*x = N","N+x = N"],"paddingInner":0.2,"paddingOuter":0.45},"axis":{"orient":"left","title":null,"labelFontSize":9.2,"labelPadding":11,"maxExtent":200}}}},
     {"mark":{"type":"point","opacity":0},"encoding":{"x":{"field":"blue","type":"quantitative","scale":{"domain":[0,0.66],"nice":false},"axis":{"orient":"top","values":[0,0.25,0.5],"labels":false,"title":null}},"y":{"field":"cat","type":"nominal","scale":{"domain":["N+N*x = N+N*x","N+N*x = N*x","N+N*x = N+x","N+N*x = x","N+N*x = N","N*x = N*x","N*x = N+x","N*x = x","N*x = N","N+x = N"],"paddingInner":0.2,"paddingOuter":0.45},"axis":{"orient":"right","labels":false,"title":null}}}}
    ]},
   {"width":95,"height":90,"title":"t = 2337500","data":{"name":"bars"},"transform":[{"filter":"datum.t==='2337500'"}],"resolve":{"axis":{"x":"independent","y":"independent"}},
    "layer":[
     {"mark":{"type":"bar","color":"#1f77b4"},"encoding":{"x":{"field":"blue","type":"quantitative","scale":{"domain":[0,0.66],"nice":false},"axis":null},"y":{"field":"cat","type":"nominal","scale":{"domain":["N+N*x = N+N*x","N+N*x = N*x","N+N*x = N+x","N+N*x = x","N+N*x = N","N*x = N*x","N*x = N+x","N*x = x","N*x = N","N+x = N"],"paddingInner":0.2,"paddingOuter":0.45},"axis":null}}},
     {"mark":{"type":"bar","color":"#ff7f0e"},"encoding":{"x":{"field":"orange","type":"quantitative","scale":{"domain":[0,0.66],"nice":false},"axis":null},"y":{"field":"cat","type":"nominal","scale":{"domain":["N+N*x = N+N*x","N+N*x = N*x","N+N*x = N+x","N+N*x = x","N+N*x = N","N*x = N*x","N*x = N+x","N*x = x","N*x = N","N+x = N"],"paddingInner":0.2,"paddingOuter":0.45},"axis":null}}},
     {"mark":{"type":"point","opacity":0},"encoding":{"x":{"field":"blue","type":"quantitative","scale":{"domain":[0,0.66],"nice":false},"axis":{"orient":"bottom","values":[0,0.25,0.5],"labelExpr":"''+datum.value","title":null,"labelPadding":5,"maxExtent":200}},"y":{"field":"cat","type":"nominal","scale":{"domain":["N+N*x = N+N*x","N+N*x = N*x","N+N*x = N+x","N+N*x = x","N+N*x = N","N*x = N*x","N*x = N+x","N*x = x","N*x = N","N+x = N"],"paddingInner":0.2,"paddingOuter":0.45},"axis":{"orient":"left","labels":false,"title":null}}}},
     {"mark":{"type":"point","opacity":0},"encoding":{"x":{"field":"blue","type":"quantitative","scale":{"domain":[0,0.66],"nice":false},"axis":{"orient":"top","values":[0,0.25,0.5],"labels":false,"title":null}},"y":{"field":"cat","type":"nominal","scale":{"domain":["N+N*x = N+N*x","N+N*x = N*x","N+N*x = N+x","N+N*x = x","N+N*x = N","N*x = N*x","N*x = N+x","N*x = x","N*x = N","N+x = N"],"paddingInner":0.2,"paddingOuter":0.45},"axis":{"orient":"right","labels":false,"title":null}}}}
    ]},
   {"width":95,"height":90,"title":"t = 3537500","data":{"name":"bars"},"transform":[{"filter":"datum.t==='3537500'"}],"resolve":{"axis":{"x":"independent","y":"independent"}},
    "layer":[
     {"mark":{"type":"bar","color":"#1f77b4"},"encoding":{"x":{"field":"blue","type":"quantitative","scale":{"domain":[0,0.66],"nice":false},"axis":null},"y":{"field":"cat","type":"nominal","scale":{"domain":["N+N*x = N+N*x","N+N*x = N*x","N+N*x = N+x","N+N*x = x","N+N*x = N","N*x = N*x","N*x = N+x","N*x = x","N*x = N","N+x = N"],"paddingInner":0.2,"paddingOuter":0.45},"axis":null}}},
     {"mark":{"type":"bar","color":"#ff7f0e"},"encoding":{"x":{"field":"orange","type":"quantitative","scale":{"domain":[0,0.66],"nice":false},"axis":null},"y":{"field":"cat","type":"nominal","scale":{"domain":["N+N*x = N+N*x","N+N*x = N*x","N+N*x = N+x","N+N*x = x","N+N*x = N","N*x = N*x","N*x = N+x","N*x = x","N*x = N","N+x = N"],"paddingInner":0.2,"paddingOuter":0.45},"axis":null}}},
     {"mark":{"type":"point","opacity":0},"encoding":{"x":{"field":"blue","type":"quantitative","scale":{"domain":[0,0.66],"nice":false},"axis":{"orient":"bottom","values":[0,0.25,0.5],"labelExpr":"''+datum.value","title":null,"labelPadding":5,"maxExtent":200}},"y":{"field":"cat","type":"nominal","scale":{"domain":["N+N*x = N+N*x","N+N*x = N*x","N+N*x = N+x","N+N*x = x","N+N*x = N","N*x = N*x","N*x = N+x","N*x = x","N*x = N","N+x = N"],"paddingInner":0.2,"paddingOuter":0.45},"axis":{"orient":"left","labels":false,"title":null}}}},
     {"mark":{"type":"point","opacity":0},"encoding":{"x":{"field":"blue","type":"quantitative","scale":{"domain":[0,0.66],"nice":false},"axis":{"orient":"top","values":[0,0.25,0.5],"labels":false,"title":null}},"y":{"field":"cat","type":"nominal","scale":{"domain":["N+N*x = N+N*x","N+N*x = N*x","N+N*x = N+x","N+N*x = x","N+N*x = N","N*x = N*x","N*x = N+x","N*x = x","N*x = N","N+x = N"],"paddingInner":0.2,"paddingOuter":0.45},"axis":{"orient":"right","labels":false,"title":null}}}}
    ]},
   {"width":95,"height":90,"title":"t = 5137500","data":{"name":"bars"},"transform":[{"filter":"datum.t==='5137500'"}],"resolve":{"axis":{"x":"independent","y":"independent"}},
    "layer":[
     {"mark":{"type":"bar","color":"#1f77b4"},"encoding":{"x":{"field":"blue","type":"quantitative","scale":{"domain":[0,0.66],"nice":false},"axis":null},"y":{"field":"cat","type":"nominal","scale":{"domain":["N+N*x = N+N*x","N+N*x = N*x","N+N*x = N+x","N+N*x = x","N+N*x = N","N*x = N*x","N*x = N+x","N*x = x","N*x = N","N+x = N"],"paddingInner":0.2,"paddingOuter":0.45},"axis":null}}},
     {"mark":{"type":"bar","color":"#ff7f0e"},"encoding":{"x":{"field":"orange","type":"quantitative","scale":{"domain":[0,0.66],"nice":false},"axis":null},"y":{"field":"cat","type":"nominal","scale":{"domain":["N+N*x = N+N*x","N+N*x = N*x","N+N*x = N+x","N+N*x = x","N+N*x = N","N*x = N*x","N*x = N+x","N*x = x","N*x = N","N+x = N"],"paddingInner":0.2,"paddingOuter":0.45},"axis":null}}},
     {"mark":{"type":"point","opacity":0},"encoding":{"x":{"field":"blue","type":"quantitative","scale":{"domain":[0,0.66],"nice":false},"axis":{"orient":"bottom","values":[0,0.25,0.5],"labelExpr":"''+datum.value","title":null,"labelPadding":5,"maxExtent":200}},"y":{"field":"cat","type":"nominal","scale":{"domain":["N+N*x = N+N*x","N+N*x = N*x","N+N*x = N+x","N+N*x = x","N+N*x = N","N*x = N*x","N*x = N+x","N*x = x","N*x = N","N+x = N"],"paddingInner":0.2,"paddingOuter":0.45},"axis":{"orient":"left","labels":false,"title":null}}}},
     {"mark":{"type":"point","opacity":0},"encoding":{"x":{"field":"blue","type":"quantitative","scale":{"domain":[0,0.66],"nice":false},"axis":{"orient":"top","values":[0,0.25,0.5],"labels":false,"title":null}},"y":{"field":"cat","type":"nominal","scale":{"domain":["N+N*x = N+N*x","N+N*x = N*x","N+N*x = N+x","N+N*x = x","N+N*x = N","N*x = N*x","N*x = N+x","N*x = x","N*x = N","N+x = N"],"paddingInner":0.2,"paddingOuter":0.45},"axis":{"orient":"right","labels":false,"title":null}}}}
    ]},
   {"width":95,"height":90,"title":"t = 5937500","data":{"name":"bars"},"transform":[{"filter":"datum.t==='5937500'"}],"resolve":{"axis":{"x":"independent","y":"independent"}},
    "layer":[
     {"mark":{"type":"bar","color":"#1f77b4"},"encoding":{"x":{"field":"blue","type":"quantitative","scale":{"domain":[0,0.66],"nice":false},"axis":null},"y":{"field":"cat","type":"nominal","scale":{"domain":["N+N*x = N+N*x","N+N*x = N*x","N+N*x = N+x","N+N*x = x","N+N*x = N","N*x = N*x","N*x = N+x","N*x = x","N*x = N","N+x = N"],"paddingInner":0.2,"paddingOuter":0.45},"axis":null}}},
     {"mark":{"type":"bar","color":"#ff7f0e"},"encoding":{"x":{"field":"orange","type":"quantitative","scale":{"domain":[0,0.66],"nice":false},"axis":null},"y":{"field":"cat","type":"nominal","scale":{"domain":["N+N*x = N+N*x","N+N*x = N*x","N+N*x = N+x","N+N*x = x","N+N*x = N","N*x = N*x","N*x = N+x","N*x = x","N*x = N","N+x = N"],"paddingInner":0.2,"paddingOuter":0.45},"axis":null}}},
     {"mark":{"type":"point","opacity":0},"encoding":{"x":{"field":"blue","type":"quantitative","scale":{"domain":[0,0.66],"nice":false},"axis":{"orient":"bottom","values":[0,0.25,0.5],"labelExpr":"''+datum.value","title":null,"labelPadding":5,"maxExtent":200}},"y":{"field":"cat","type":"nominal","scale":{"domain":["N+N*x = N+N*x","N+N*x = N*x","N+N*x = N+x","N+N*x = x","N+N*x = N","N*x = N*x","N*x = N+x","N*x = x","N*x = N","N+x = N"],"paddingInner":0.2,"paddingOuter":0.45},"axis":{"orient":"left","labels":false,"title":null}}}},
     {"mark":{"type":"point","opacity":0},"encoding":{"x":{"field":"blue","type":"quantitative","scale":{"domain":[0,0.66],"nice":false},"axis":{"orient":"top","values":[0,0.25,0.5],"labels":false,"title":null}},"y":{"field":"cat","type":"nominal","scale":{"domain":["N+N*x = N+N*x","N+N*x = N*x","N+N*x = N+x","N+N*x = x","N+N*x = N","N*x = N*x","N*x = N+x","N*x = x","N*x = N","N+x = N"],"paddingInner":0.2,"paddingOuter":0.45},"axis":{"orient":"right","labels":false,"title":null}}}}
    ]},
   {"width":95,"height":90,"title":"t = 7137500","data":{"name":"bars"},"transform":[{"filter":"datum.t==='7137500'"}],"resolve":{"axis":{"x":"independent","y":"independent"}},
    "layer":[
     {"mark":{"type":"bar","color":"#1f77b4"},"encoding":{"x":{"field":"blue","type":"quantitative","scale":{"domain":[0,0.66],"nice":false},"axis":null},"y":{"field":"cat","type":"nominal","scale":{"domain":["N+N*x = N+N*x","N+N*x = N*x","N+N*x = N+x","N+N*x = x","N+N*x = N","N*x = N*x","N*x = N+x","N*x = x","N*x = N","N+x = N"],"paddingInner":0.2,"paddingOuter":0.45},"axis":null}}},
     {"mark":{"type":"bar","color":"#ff7f0e"},"encoding":{"x":{"field":"orange","type":"quantitative","scale":{"domain":[0,0.66],"nice":false},"axis":null},"y":{"field":"cat","type":"nominal","scale":{"domain":["N+N*x = N+N*x","N+N*x = N*x","N+N*x = N+x","N+N*x = x","N+N*x = N","N*x = N*x","N*x = N+x","N*x = x","N*x = N","N+x = N"],"paddingInner":0.2,"paddingOuter":0.45},"axis":null}}},
     {"mark":{"type":"point","opacity":0},"encoding":{"x":{"field":"blue","type":"quantitative","scale":{"domain":[0,0.66],"nice":false},"axis":{"orient":"bottom","values":[0,0.25,0.5],"labelExpr":"''+datum.value","title":null,"labelPadding":5,"maxExtent":200}},"y":{"field":"cat","type":"nominal","scale":{"domain":["N+N*x = N+N*x","N+N*x = N*x","N+N*x = N+x","N+N*x = x","N+N*x = N","N*x = N*x","N*x = N+x","N*x = x","N*x = N","N+x = N"],"paddingInner":0.2,"paddingOuter":0.45},"axis":{"orient":"left","labels":false,"title":null}}}},
     {"mark":{"type":"point","opacity":0},"encoding":{"x":{"field":"blue","type":"quantitative","scale":{"domain":[0,0.66],"nice":false},"axis":{"orient":"top","values":[0,0.25,0.5],"labels":false,"title":null}},"y":{"field":"cat","type":"nominal","scale":{"domain":["N+N*x = N+N*x","N+N*x = N*x","N+N*x = N+x","N+N*x = x","N+N*x = N","N*x = N*x","N*x = N+x","N*x = x","N*x = N","N+x = N"],"paddingInner":0.2,"paddingOuter":0.45},"axis":{"orient":"right","labels":false,"title":null}}}}
    ]},
   {"width":95,"height":90,"title":"t = 8737500","data":{"name":"bars"},"transform":[{"filter":"datum.t==='8737500'"}],"resolve":{"axis":{"x":"independent","y":"independent"}},
    "layer":[
     {"mark":{"type":"bar","color":"#1f77b4"},"encoding":{"x":{"field":"blue","type":"quantitative","scale":{"domain":[0,0.66],"nice":false},"axis":null},"y":{"field":"cat","type":"nominal","scale":{"domain":["N+N*x = N+N*x","N+N*x = N*x","N+N*x = N+x","N+N*x = x","N+N*x = N","N*x = N*x","N*x = N+x","N*x = x","N*x = N","N+x = N"],"paddingInner":0.2,"paddingOuter":0.45},"axis":null}}},
     {"mark":{"type":"bar","color":"#ff7f0e"},"encoding":{"x":{"field":"orange","type":"quantitative","scale":{"domain":[0,0.66],"nice":false},"axis":null},"y":{"field":"cat","type":"nominal","scale":{"domain":["N+N*x = N+N*x","N+N*x = N*x","N+N*x = N+x","N+N*x = x","N+N*x = N","N*x = N*x","N*x = N+x","N*x = x","N*x = N","N+x = N"],"paddingInner":0.2,"paddingOuter":0.45},"axis":null}}},
     {"mark":{"type":"point","opacity":0},"encoding":{"x":{"field":"blue","type":"quantitative","scale":{"domain":[0,0.66],"nice":false},"axis":{"orient":"bottom","values":[0,0.25,0.5],"labelExpr":"''+datum.value","title":null,"labelPadding":5,"maxExtent":200}},"y":{"field":"cat","type":"nominal","scale":{"domain":["N+N*x = N+N*x","N+N*x = N*x","N+N*x = N+x","N+N*x = x","N+N*x = N","N*x = N*x","N*x = N+x","N*x = x","N*x = N","N+x = N"],"paddingInner":0.2,"paddingOuter":0.45},"axis":{"orient":"left","labels":false,"title":null}}}},
     {"mark":{"type":"point","opacity":0},"encoding":{"x":{"field":"blue","type":"quantitative","scale":{"domain":[0,0.66],"nice":false},"axis":{"orient":"top","values":[0,0.25,0.5],"labels":false,"title":null}},"y":{"field":"cat","type":"nominal","scale":{"domain":["N+N*x = N+N*x","N+N*x = N*x","N+N*x = N+x","N+N*x = x","N+N*x = N","N*x = N*x","N*x = N+x","N*x = x","N*x = N","N+x = N"],"paddingInner":0.2,"paddingOuter":0.45},"axis":{"orient":"right","labels":false,"title":null}}}}
    ]}
  ]}
]
}
